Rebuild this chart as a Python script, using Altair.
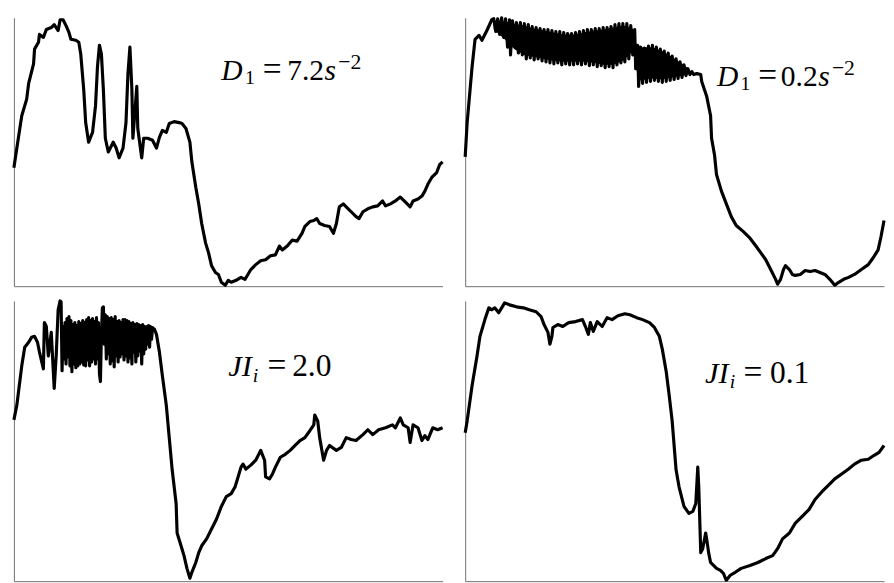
import altair as alt
import pandas as pd

# Panel 1 (top-left): D1 = 7.2 s^-2   (x, y) readings
P1 = [(0,121),(3,141),(8,174),(13,191),(15,207),(20,227),(21,242),(25,249),(26,257),(30,254),
      (33,262),(38,264),(41,267),(45,261),(47,272),(50,272),(53,266),(56,259),(58,252),(63,251),
      (66,249),(68,237),(71,201),(73,167),(76,147),(80,157),(83,184),(85,224),(87,246),(89,237),
      (91,201),(93,151),(96,137),(101,147),(104,141),(107,131),(111,141),(114,167),(116,217),(118,244),
      (120,201),(121,151),(123,177),(125,204),(126,161),(130,131),(132,151),(136,151),(141,149),(145,141),
      (148,152),(151,159),(155,157),(158,166),(163,168),(168,167),(171,166),(175,161),(179,147),(181,127),
      (185,101),(188,84),(191,64),(195,44),(198,34),(201,21),(205,14),(208,12),(211,4),(215,1),
      (218,6),(221,4),(226,6),(231,9),(235,7),(238,12),(241,17),(246,22),(251,26),(256,27),
      (261,31),(266,32),(270,41),(273,37),(278,41),(283,47),(288,46),(293,54),(296,61),(301,66),
      (305,67),(308,69),(311,64),(316,62),(321,61),(325,54),(328,64),(331,81),(335,84),(338,81),
      (343,76),(348,71),(351,69),(355,76),(360,79),(365,81),(370,82),(375,87),(378,82),(383,84),
      (388,87),(393,91),(398,86),(403,81),(406,87),(411,89),(415,92),(418,97),(421,104),(425,111),
      (430,116),(433,124),(436,127)]

# Panel 2 (top-right): D1 = 0.2 s^-2
P2 = [(0,132),(2,167),(7,224),(10,252),(14,256),(17,251),(22,261),(27,272),
      (29,273),(31,260),(33,273),(35,257),(37,274),(39,254),(41,273),(43,244),(45,272),(46,236),
      (48,271),(50,248),(52,269),(54,238),(56,269),(58,236),(60,268),(62,232),(64,267),(66,233),
      (68,265),(70,231),(72,264),(74,232),(76,263),(78,230),(80,262),(82,229),(84,262),(86,228),
      (88,261),(90,227),(92,260),(94,228),(96,260),(98,226),(100,259),(102,227),(104,258),(106,226),
      (108,258),(110,226),(112,259),(114,227),(116,260),(118,226),(120,261),(122,227),(124,262),(126,225),
      (128,262),(130,226),(132,263),(134,224),(136,263),(138,225),(140,264),(142,223),(144,264),(146,224),
      (148,265),(150,223),(152,267),(154,226),(156,268),(158,228),(160,268),(162,229),(164,268),(166,232),
      (168,266),(170,236),(172,262),(173,222),(175,246),(176,204),(178,244),(180,207),(182,243),(184,208),
      (186,245),(188,209),(190,246),(192,210),(194,244),(196,209),(198,242),(200,208),(202,240),(204,209),
      (206,238),(208,210),(210,235),(212,211),(214,232),(216,212),(218,229),(220,213),(222,226),(224,215),
      (226,222),(228,216),(230,219),(232,216),(235,217),(239,216),
      (240,209),(245,194),(249,174),(250,151),(253,134),(255,114),(260,97),(265,84),(270,71),(275,62),
      (282,56),(289,49),(295,41),(300,34),(305,27),(310,17),(315,7),(317,2),(320,7),(323,17),
      (325,21),(329,17),(332,12),(335,11),(340,12),(345,16),(350,15),(355,16),(360,14),(365,12),
      (370,7),(375,1),(379,4),(384,7),(389,9),(395,12),(402,17),(409,22),(414,29),(419,37),
      (422,51),(425,67)]

# Panel 2 dense oscillation band, inner envelope: (x, lower, upper)
BAND2 = [(29,262,270),(40,252,270),(50,242,268),(60,236,266),(70,234,263),(80,232,261),
         (90,230,259),(100,229,257),(110,229,257),(120,229,259),(130,228,261),(140,226,262),
         (150,226,264),(160,230,266),(168,238,264),(171,238,262),(173,225,248),(176,210,244),
         (190,212,244),(200,211,240),(210,213,234),(220,215,227),(228,217,221)]

# Panel 3 (bottom-left): JI_i = 2.0
P3 = [(0,164),(3,179),(6,203),(8,219),(11,238),(15,243),(18,248),(21,249),(24,243),(26,233),
      (30,216),(31,263),(33,259),(35,229),(38,253),(41,196),(43,229),(45,276),(47,285),
      (48,284),(49,214),(50,259),(51,226),(52,263),(53,221),(54,267),(55,228),(56,269),(57,219),
      (58,265),(59,213),(60,261),(61,221),(62,263),(63,217),(64,260),(65,219),(66,264),(67,221),
      (68,262),(69,223),(70,265),(71,220),(72,263),(73,219),(74,266),(75,225),(76,268),(77,219),
      (78,265),(79,223),(80,267),(81,226),(82,264),(83,221),(84,268),(85,226),(86,263),(87,211),
      (88,203),(89,251),(90,278),(91,279),(92,241),(93,271),(94,226),(95,269),(96,231),(97,267),
      (98,221),(99,268),(100,224),(101,266),(102,218),(103,269),(104,229),(105,264),(106,223),(107,265),
      (108,228),(109,263),(110,231),(111,266),(112,225),(113,266),(114,229),(115,265),(116,223),(117,264),
      (118,227),(119,262),(120,221),(121,263),(122,233),(123,261),(124,223),(125,262),(126,229),(127,261),
      (128,234),(129,260),(130,221),(131,261),(132,231),(133,259),(134,236),(135,259),(136,241),(137,260),
      (138,238),(139,259),(140,246),(141,258),(143,256),(145,251),
      (148,233),(151,209),(155,179),(158,146),(161,113),(165,79),(166,49),(170,36),(173,26),(176,13),
      (179,3),(181,9),(185,19),(188,29),(191,36),(196,43),(201,53),(206,63),(211,76),(216,86),
      (221,89),(225,96),(228,106),(231,116),(233,119),(236,114),(241,118),(246,123),(251,133),(255,123),
      (256,106),(260,104),(263,109),(266,116),(271,126),(276,129),(281,133),(286,138),(291,143),(296,146),
      (301,153),(305,159),(306,169),(309,163),(311,146),(315,123),(318,133),(321,138),(328,133),(333,136),
      (338,146),(343,144),(348,143),(355,149),(360,154),(365,149),(371,154),(378,156),(385,159),(388,156),
      (393,166),(396,159),(401,156),(403,141),(406,159),(411,156),(415,143),(418,148),(421,144),(426,156),
      (431,154),(436,156)]

# Panel 4 (bottom-right): JI_i = 0.1
P4 = [(0,151),(2,163),(7,199),(12,229),(15,249),(20,266),(24,278),(27,276),(30,278),(34,273),
      (37,278),(40,283),(45,281),(52,279),(59,278),(65,276),(72,274),(77,269),(80,261),(84,253),
      (86,241),(88,249),(89,258),(94,261),(99,259),(105,263),(112,264),(119,266),(122,259),(125,251),
      (127,263),(130,254),(134,264),(139,259),(144,268),(149,266),(155,270),(162,272),(167,271),(174,268),
      (180,266),(187,263),(192,258),(197,249),(200,236),(204,213),(207,189),(210,163),(214,113),(217,96),
      (222,76),(227,69),(231,71),(234,79),(236,116),(237,96),(238,63),(239,29),(241,33),(244,49),
      (245,43),(247,29),(249,19),(252,16),(255,13),(259,11),(262,8),(264,3),(265,1),(269,6),
      (274,9),(280,13),(289,16),(297,19),(305,23),(312,26),(317,33),(322,43),(329,49),(335,59),
      (342,66),(349,73),(355,83),(362,91),(369,98),(375,104),(382,109),(389,114),(395,119),(402,123),
      (409,124),(415,128),(420,131),(425,138)]

# Annotation text segments: (text, italic, size)
LABEL1 = [("D", True, 30), ("1", False, 20), ("=", False, 34), ("7.2", False, 30), ("s", True, 30), ("\u22122", False, 22)]
LABEL2 = [("D", True, 30), ("1", False, 20), ("=", False, 34), ("0.2", False, 30), ("s", True, 30), ("\u22122", False, 22)]
LABEL3 = [("JI", True, 31), ("i", True, 20), ("=", False, 34), ("2.0", False, 32)]
LABEL4 = [("JI", True, 31), ("i", True, 20), ("=", False, 34), ("0.1", False, 32)]

# placement of label segments inside each panel (annotation layout only)
POS1 = [(211, 63), (235, 67), (253, 63), (278, 63), (316, 63), (330, 52)]
POS2 = [(256, 69), (280, 73), (298, 69), (321, 69), (359, 69), (373, 58)]
POS3 = [(218, 76), (243, 82), (258, 76), (283, 76)]
POS4 = [(244, 83), (269, 89), (283, 83), (310, 83)]

FONT = "Liberation Serif"
AXIS_COLOR = "#6f6f6f"


def panel(points, xmax, ymax, w, h, label, pos, band=None):
    df = pd.DataFrame(points, columns=["t", "v"])
    ax = dict(domain=True, domainColor=AXIS_COLOR, domainWidth=1, ticks=False,
              labels=False, grid=False, title=None)
    xs = alt.Scale(domain=[0, xmax], nice=False, zero=False)
    ys = alt.Scale(domain=[0, ymax], nice=False, zero=False)
    layers = []
    if band is not None:
        bdf = pd.DataFrame(band, columns=["t", "lo", "hi"])
        layers.append(
            alt.Chart(bdf).mark_area(color="black", opacity=1, interpolate="linear").encode(
                x=alt.X("t:Q", scale=xs, axis=alt.Axis(**ax)),
                y=alt.Y("lo:Q", scale=ys, axis=alt.Axis(**ax)),
                y2="hi:Q",
            )
        )
    layers.append(
        alt.Chart(df).mark_line(color="black", strokeWidth=3.2, strokeJoin="round").encode(
            x=alt.X("t:Q", scale=xs, axis=alt.Axis(**ax)),
            y=alt.Y("v:Q", scale=ys, axis=alt.Axis(**ax)),
        )
    )
    for (txt, ital, size), (px, py) in zip(label, pos):
        layers.append(
            alt.Chart(pd.DataFrame({"s": [txt]})).mark_text(
                align="left", baseline="alphabetic", font=FONT, fontSize=size,
                fontStyle="italic" if ital else "normal", color="black"
            ).encode(x=alt.value(px), y=alt.value(py), text="s:N")
        )
    return alt.layer(*layers).properties(width=w, height=h)


p1 = panel(P1, 436, 274, 436, 273, LABEL1, POS1)
p2 = panel(P2, 425, 274, 426, 273, LABEL2, POS2, band=BAND2)
p3 = panel(P3, 436, 285, 436, 285, LABEL3, POS3)
p4 = panel(P4, 425, 285, 426, 285, LABEL4, POS4)

chart = alt.vconcat(
    alt.hconcat(p1, p2, spacing=19),
    alt.hconcat(p3, p4, spacing=19),
    spacing=12,
).configure_view(stroke=None).properties(
    padding={"left": 4, "top": 3, "right": 0, "bottom": 0}
)

chart.save("out.html", embed_options={"renderer": "svg", "actions": False})
